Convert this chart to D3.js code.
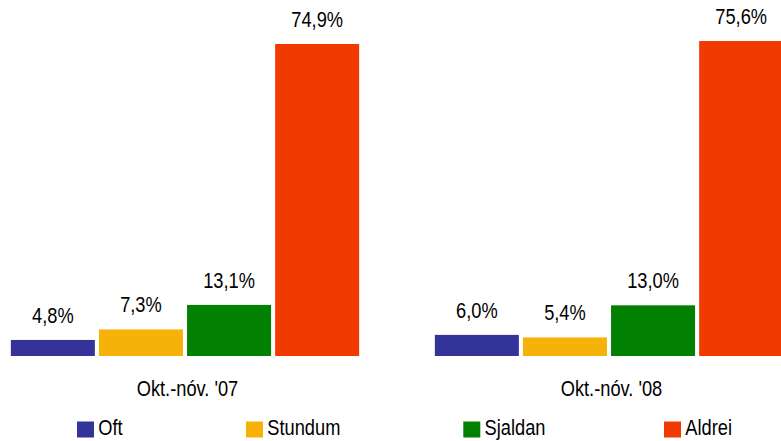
<!DOCTYPE html>
<html>
<head>
<meta charset="utf-8">
<script src="https://cdn.jsdelivr.net/npm/d3@7"></script>
<style>
html,body{margin:0;padding:0;background:#fff;}
svg{display:block;}
text{font-family:"Liberation Sans",Arial,sans-serif;fill:#000;}
</style>
</head>
<body>
<svg id="chart" width="781" height="441"></svg>
<script>
const categories = ["Okt.-nóv. '07", "Okt.-nóv. '08"];
const seriesNames = ["Oft", "Stundum", "Sjaldan", "Aldrei"];
const oft = [4.8, 6.0];
const stundum = [7.3, 5.4];
const sjaldan = [13.1, 13.0];
const aldrei = [74.9, 75.6];
const seriesColors = ["#333399", "#F7B20A", "#028002", "#F03A00"];
const yDomain = [1, 80];

const seriesValues = [oft, stundum, sjaldan, aldrei];
const fmt = v => v.toFixed(1).replace(".", ",") + "%";
const SX = 0.83;
const FS = 22;

const svg = d3.select("#chart");

const x0 = d3.scaleBand().domain(categories).range([-27, 821])
  .paddingInner(0.1785).paddingOuter(0.08925);
const x1 = d3.scaleBand().domain(seriesNames).range([0, x0.bandwidth()])
  .paddingInner(0.0465).paddingOuter(0);
const y = d3.scaleLinear().domain(yDomain).range([356, 356 - 79 * 4.222]);
const color = d3.scaleOrdinal().domain(seriesNames).range(seriesColors);

const data = [];
categories.forEach((c, ci) => {
  seriesNames.forEach((s, si) => {
    data.push({cat: c, series: s, value: seriesValues[si][ci]});
  });
});

const g = svg.append("g");
g.selectAll("rect.bar").data(data).enter().append("rect")
  .attr("class", "bar")
  .attr("x", d => x0(d.cat) + x1(d.series))
  .attr("width", x1.bandwidth())
  .attr("y", d => y(d.value))
  .attr("height", d => y(yDomain[0]) - y(d.value))
  .attr("fill", d => color(d.series));

g.selectAll("text.val").data(data).enter().append("text")
  .attr("class", "val")
  .attr("text-anchor", "middle")
  .style("font-size", FS + "px")
  .attr("transform", d => `translate(${x0(d.cat) + x1(d.series) + x1.bandwidth() / 2},${y(d.value) - 17}) scale(${SX},1)`)
  .text(d => fmt(d.value));

g.selectAll("text.cat").data(categories).enter().append("text")
  .attr("class", "cat")
  .attr("text-anchor", "middle")
  .style("font-size", FS + "px")
  .attr("transform", d => `translate(${x0(d) + x0.bandwidth() / 2 + 2.5},396) scale(${SX},1)`)
  .text(d => d);

// legend (layout)
const legendX = [77, 246, 463.3, 664];
const leg = svg.append("g");
seriesNames.forEach((s, i) => {
  const lx = legendX[i];
  leg.append("rect").attr("x", lx).attr("y", 421.5).attr("width", 17).attr("height", 16)
    .attr("fill", color(s));
  leg.append("text")
    .style("font-size", FS + "px")
    .attr("transform", `translate(${lx + 21.3},435) scale(${SX},1)`)
    .text(s);
});
</script>
</body>
</html>
